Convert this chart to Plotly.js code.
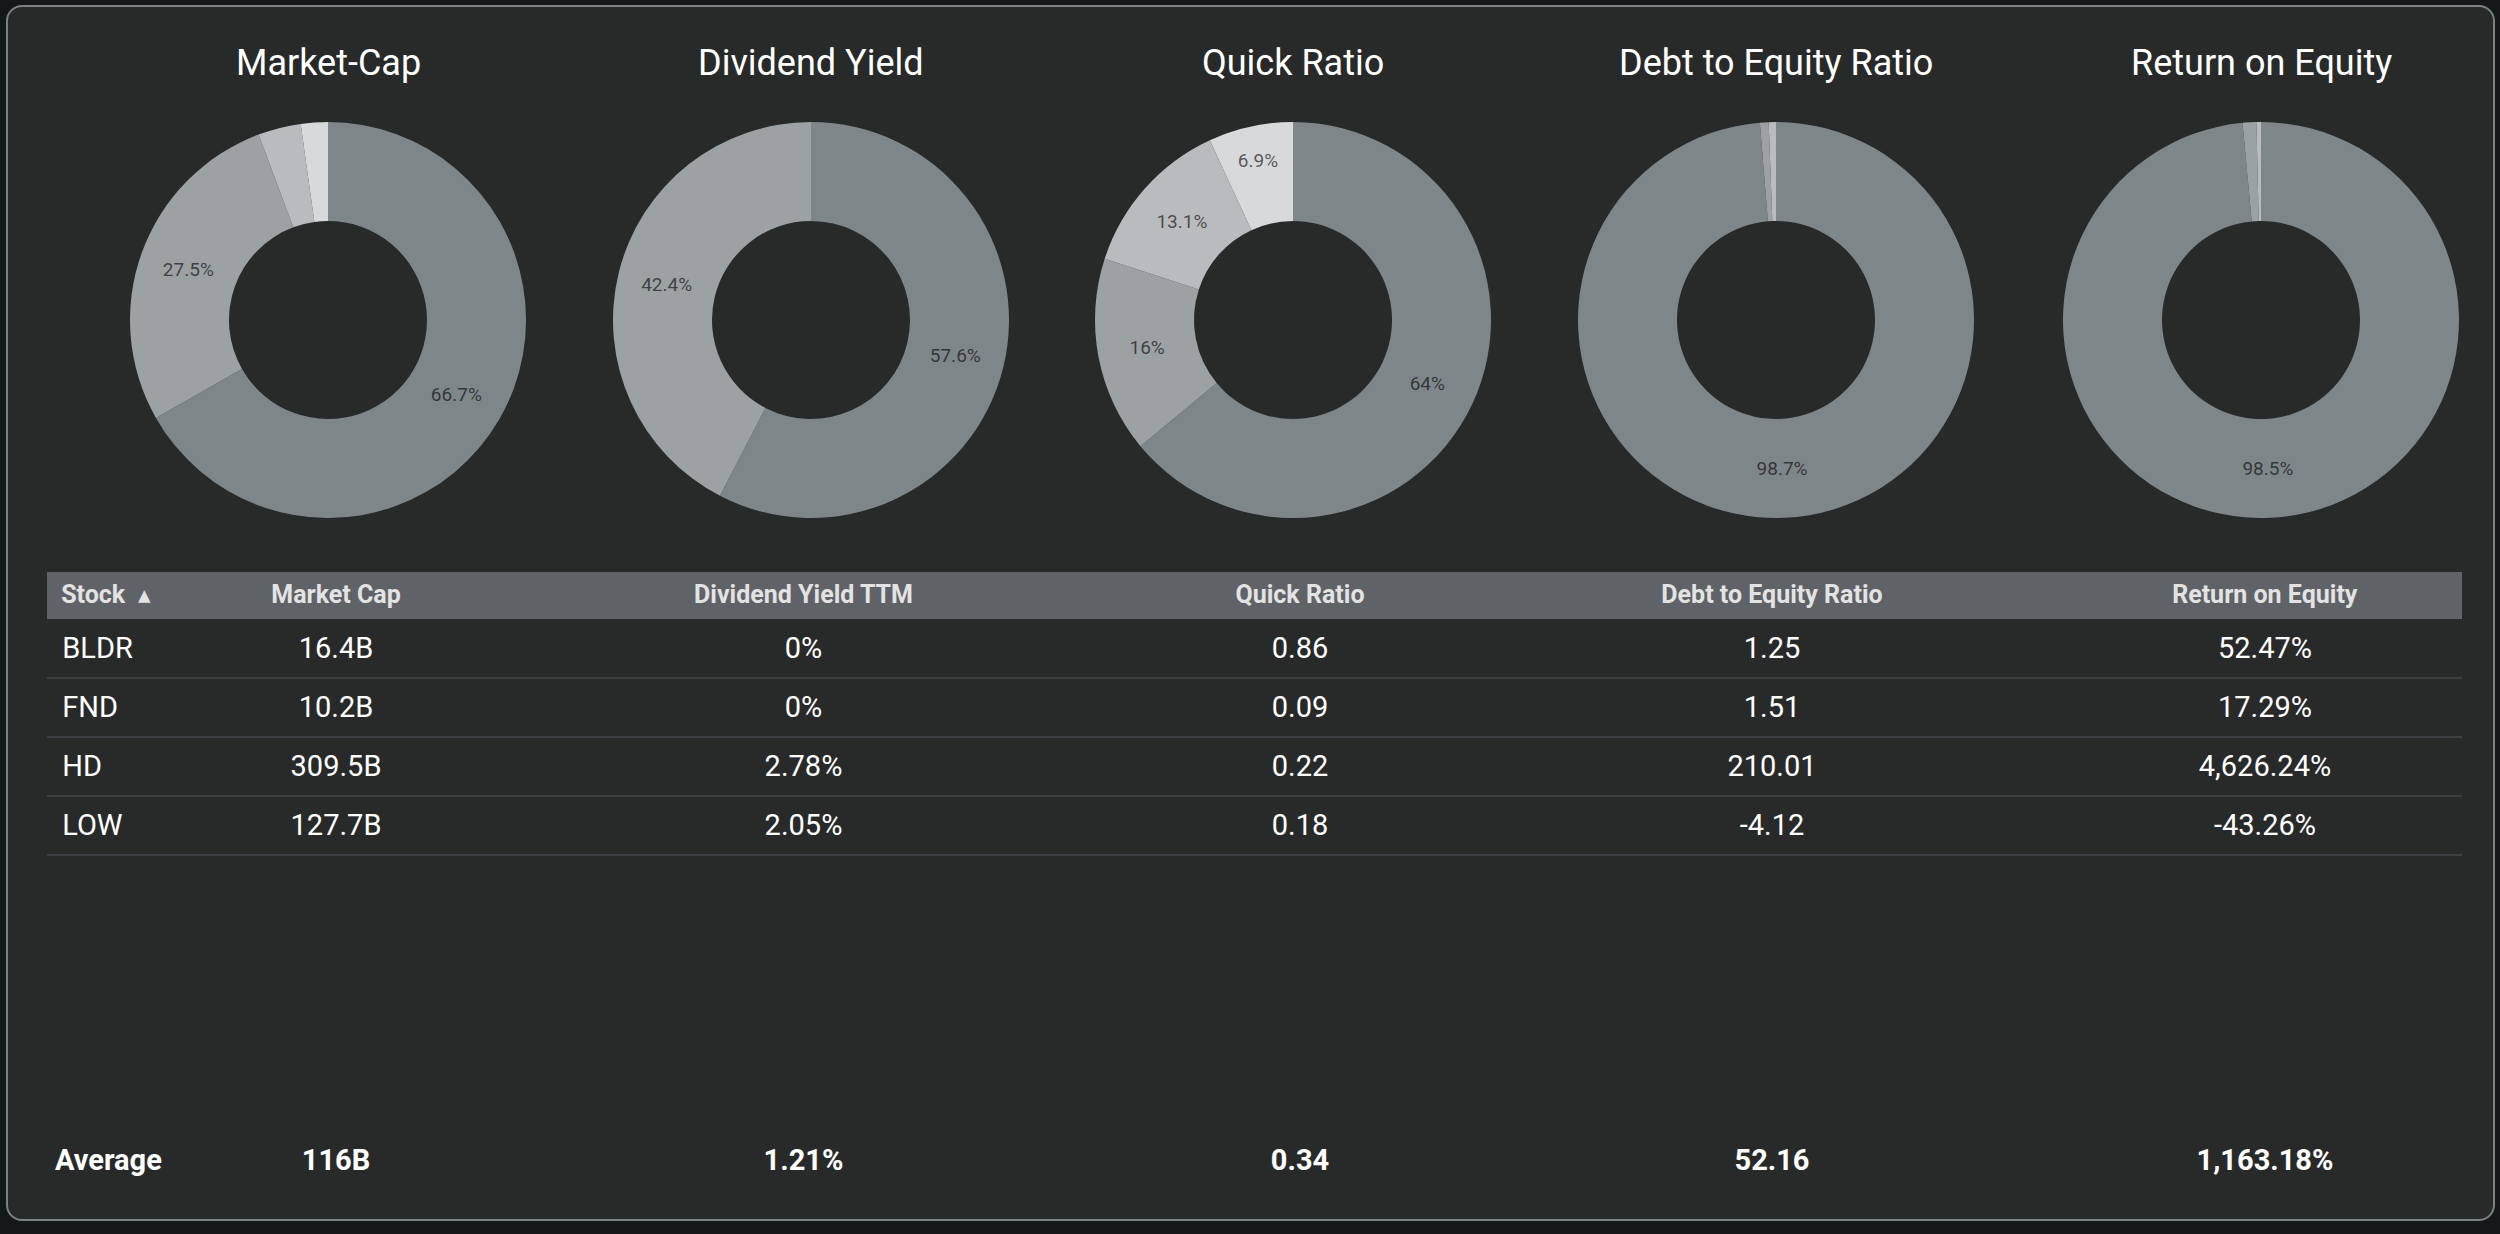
<!DOCTYPE html>
<html>
<head>
<meta charset="utf-8">
<script src="https://cdn.plot.ly/plotly-3.0.1.min.js"></script>
<style>
  html, body { margin:0; padding:0; background:#131819; width:2500px; height:1234px; overflow:hidden; }
  #card { position:absolute; left:6px; top:5px; width:2485px; height:1212px; background:#282a2a;
          border:2px solid #7b8183; border-radius:16px; }
  #chart { position:absolute; left:0; top:0; width:2500px; height:1234px; }
</style>
</head>
<body>
<div id="card"></div>
<div id="chart"></div>
<script>
// ---- data ----
const stocks = ['BLDR', 'FND', 'HD', 'LOW'];
const marketCap = [16.4, 10.2, 309.5, 127.7];          // billions
const dividendYield = [0, 0, 2.78, 2.05];              // %
const quickRatio = [0.86, 0.09, 0.22, 0.18];
const debtToEquity = [1.25, 1.51, 210.01, -4.12];
const returnOnEquity = [52.47, 17.29, 4626.24, -43.26]; // %
const averages = [116, 1.21, 0.34, 52.16, 1163.18];

// pie slice shares (%) as labelled in the picture, same stock order
const marketCapShare = [3.5, 2.2, 66.7, 27.5];
const dividendShare = [0, 0, 57.6, 42.4];
const quickShare = [64, 6.9, 16, 13.1];
const debtShare = [0.59, 0.71, 98.7, 0];
const roeShare = [1.12, 0.37, 98.5, 0];

const pieTitles = ['Market-Cap', 'Dividend Yield', 'Quick Ratio', 'Debt to Equity Ratio', 'Return on Equity'];
const columnHeaders = ['Stock', 'Market Cap', 'Dividend Yield TTM', 'Quick Ratio', 'Debt to Equity Ratio', 'Return on Equity'];

// ---- styling / layout ----
const W = 2500, H = 1234;
const palette = ['#7f8689', '#9ca1a4', '#b9bcbe', '#d7d9da'];
const pieCenters = [328, 811, 1293, 1776, 2261];
const pieCY = 320, pieR = 198;
const px = v => v / W;
const py = v => 1 - v / H;

function rankColors(vals) {
  const idx = vals.map((v, i) => i).sort((a, b) => vals[b] - vals[a]);
  const cols = new Array(vals.length);
  idx.forEach((i, r) => { cols[i] = palette[r]; });
  return cols;
}

const shares = [marketCapShare, dividendShare, quickShare, debtShare, roeShare];
const traces = [];
shares.forEach((s, k) => {
  const cx = pieCenters[k];
  traces.push({
    type: 'pie',
    labels: stocks,
    values: s,
    hole: 0.5,
    sort: true,
    direction: 'clockwise',
    rotation: 0,
    textposition: 'inside',
    insidetextorientation: 'horizontal',
    texttemplate: '%{value}%',
    textfont: { family: 'Roboto', size: 19, color: 'rgba(0,0,0,0.62)' },
    marker: { colors: rankColors(s), line: { width: 0 } },
    hoverinfo: 'none',
    domain: { x: [px(cx - pieR), px(cx + pieR)], y: [py(pieCY + pieR), py(pieCY - pieR)] }
  });
});

// table
const fmt2 = v => v.toLocaleString('en-US', { minimumFractionDigits: 2, maximumFractionDigits: 2 });
const colVals = [
  stocks.map(s => '\u00a0' + s),
  marketCap.map(v => v + 'B'),
  dividendYield.map(v => (v === 0 ? '0' : fmt2(v)) + '%'),
  quickRatio.map(fmt2),
  debtToEquity.map(fmt2),
  returnOnEquity.map(v => fmt2(v) + '%')
];
const colWidths = [142, 294, 641, 352, 592, 394];
const tableLeft = 47, tableRight = 2462, tableTop = 572, headerH = 47, rowH = 59;
const textShift = 9; // push row text down so it sits centred in each row band
const aligns = ['left', 'center', 'center', 'center', 'center', 'center'];

const headerVals = columnHeaders.map((h, i) => i === 0
  ? '\u00a0<b>' + h + '</b>\u00a0\u00a0\u25B4'
  : '<b>' + h + '</b>');

traces.push({
  type: 'table',
  domain: { x: [px(tableLeft), px(tableRight)], y: [py(tableTop + headerH + rowH * stocks.length + 30), py(tableTop)] },
  columnwidth: colWidths,
  header: {
    values: headerVals, align: aligns, height: headerH + textShift,
    fill: { color: 'rgba(0,0,0,0)' }, line: { color: 'rgba(0,0,0,0)', width: 0 },
    font: { family: 'Roboto', size: 25, color: '#e3e3e3' }
  },
  cells: {
    values: colVals, align: aligns, height: rowH,
    fill: { color: 'rgba(0,0,0,0)' }, line: { color: 'rgba(0,0,0,0)', width: 0 },
    font: { family: 'Roboto', size: 29, color: '#ffffff' }
  }
});

// footer (averages)
const avgVals = ['Average', averages[0] + 'B', fmt2(averages[1]) + '%', fmt2(averages[2]),
                 fmt2(averages[3]), fmt2(averages[4]) + '%'].map(t => '<b>' + t + '</b>');
traces.push({
  type: 'table',
  domain: { x: [px(tableLeft), px(tableRight)], y: [py(1198), py(1135)] },
  columnwidth: colWidths,
  header: {
    values: avgVals, align: aligns, height: 59,
    fill: { color: 'rgba(0,0,0,0)' }, line: { color: 'rgba(0,0,0,0)', width: 0 },
    font: { family: 'Roboto', size: 29, color: '#ffffff' }
  },
  cells: { values: [], height: 0 }
});

const shapes = [{
  type: 'rect', xref: 'paper', yref: 'paper', layer: 'below',
  x0: px(tableLeft), x1: px(tableRight), y0: py(tableTop + headerH), y1: py(tableTop),
  fillcolor: '#5f6266', line: { width: 0 }
}].concat(stocks.map((s, i) => {
  const y = tableTop + headerH + rowH * (i + 1);
  return { type: 'line', xref: 'paper', yref: 'paper', layer: 'below', x0: px(tableLeft), x1: px(tableRight),
           y0: py(y), y1: py(y), line: { color: '#3c3f41', width: 2 } };
}));

const annotations = pieTitles.map((t, k) => ({
  text: t, xref: 'paper', yref: 'paper', x: px(pieCenters[k]), y: py(63),
  xanchor: 'center', yanchor: 'middle', showarrow: false,
  font: { family: 'Roboto', size: 36, color: '#ffffff' }
}));

Plotly.newPlot('chart', traces, {
  width: W, height: H,
  margin: { l: 0, r: 0, t: 0, b: 0 },
  paper_bgcolor: 'rgba(0,0,0,0)', plot_bgcolor: 'rgba(0,0,0,0)',
  showlegend: false,
  uniformtext: { mode: 'hide', minsize: 19 },
  shapes: shapes,
  annotations: annotations
}, { displayModeBar: false, staticPlot: true });
</script>
</body>
</html>
